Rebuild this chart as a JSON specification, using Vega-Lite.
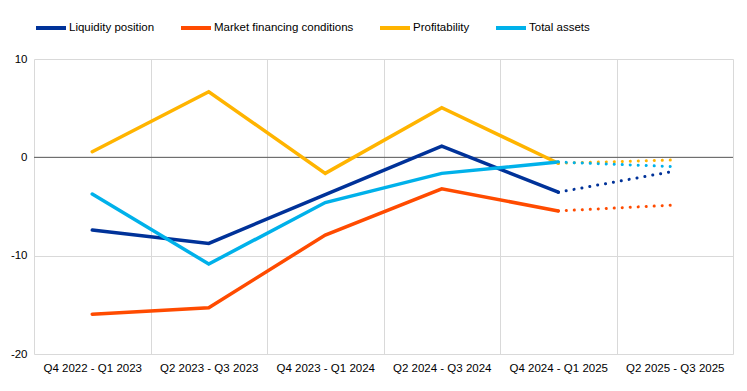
{
  "$schema": "https://vega.github.io/schema/vega-lite/v6.json",
  "width": 699,
  "height": 295,
  "padding": {"left": 10, "top": 11, "right": 15, "bottom": 10},
  "background": "white",
  "config": {
    "font": "Liberation Sans, Arial",
    "view": {"stroke": null},
    "axis": {"labelFont": "Liberation Sans, Arial", "labelFontSize": 11.5, "labelColor": "#000000", "ticks": false, "domain": false, "gridColor": "#d9d9d9", "gridWidth": 1, "title": null},
    "legend": {"labelFont": "Liberation Sans, Arial", "labelFontSize": 11.5, "labelColor": "#000000"}
  },
  "datasets": {
    "main": [
      {"period": "Q4 2022 - Q1 2023", "series": "Liquidity position", "value": -7.4, "part": "actual"},
      {"period": "Q2 2023 - Q3 2023", "series": "Liquidity position", "value": -8.75, "part": "actual"},
      {"period": "Q4 2023 - Q1 2024", "series": "Liquidity position", "value": -3.8, "part": "actual"},
      {"period": "Q2 2024 - Q3 2024", "series": "Liquidity position", "value": 1.15, "part": "actual"},
      {"period": "Q4 2024 - Q1 2025", "series": "Liquidity position", "value": -3.55, "part": "actual"},
      {"period": "Q4 2024 - Q1 2025", "series": "Liquidity position", "value": -3.55, "part": "expected"},
      {"period": "Q2 2025 - Q3 2025", "series": "Liquidity position", "value": -1.4, "part": "expected"},
      {"period": "Q4 2022 - Q1 2023", "series": "Market financing conditions", "value": -15.95, "part": "actual"},
      {"period": "Q2 2023 - Q3 2023", "series": "Market financing conditions", "value": -15.3, "part": "actual"},
      {"period": "Q4 2023 - Q1 2024", "series": "Market financing conditions", "value": -7.9, "part": "actual"},
      {"period": "Q2 2024 - Q3 2024", "series": "Market financing conditions", "value": -3.2, "part": "actual"},
      {"period": "Q4 2024 - Q1 2025", "series": "Market financing conditions", "value": -5.45, "part": "actual"},
      {"period": "Q4 2024 - Q1 2025", "series": "Market financing conditions", "value": -5.45, "part": "expected"},
      {"period": "Q2 2025 - Q3 2025", "series": "Market financing conditions", "value": -4.85, "part": "expected"},
      {"period": "Q4 2022 - Q1 2023", "series": "Profitability", "value": 0.57, "part": "actual"},
      {"period": "Q2 2023 - Q3 2023", "series": "Profitability", "value": 6.67, "part": "actual"},
      {"period": "Q4 2023 - Q1 2024", "series": "Profitability", "value": -1.63, "part": "actual"},
      {"period": "Q2 2024 - Q3 2024", "series": "Profitability", "value": 5.05, "part": "actual"},
      {"period": "Q4 2024 - Q1 2025", "series": "Profitability", "value": -0.6, "part": "actual"},
      {"period": "Q4 2024 - Q1 2025", "series": "Profitability", "value": -0.6, "part": "expected"},
      {"period": "Q2 2025 - Q3 2025", "series": "Profitability", "value": -0.27, "part": "expected"},
      {"period": "Q4 2022 - Q1 2023", "series": "Total assets", "value": -3.73, "part": "actual"},
      {"period": "Q2 2023 - Q3 2023", "series": "Total assets", "value": -10.85, "part": "actual"},
      {"period": "Q4 2023 - Q1 2024", "series": "Total assets", "value": -4.6, "part": "actual"},
      {"period": "Q2 2024 - Q3 2024", "series": "Total assets", "value": -1.63, "part": "actual"},
      {"period": "Q4 2024 - Q1 2025", "series": "Total assets", "value": -0.48, "part": "actual"},
      {"period": "Q4 2024 - Q1 2025", "series": "Total assets", "value": -0.48, "part": "expected"},
      {"period": "Q2 2025 - Q3 2025", "series": "Total assets", "value": -0.95, "part": "expected"}
    ],
    "zero": [{"value": 0}]
  },
  "encoding": {
    "x": {
      "field": "period", "type": "ordinal",
      "sort": ["Q4 2022 - Q1 2023", "Q2 2023 - Q3 2023", "Q4 2023 - Q1 2024", "Q2 2024 - Q3 2024", "Q4 2024 - Q1 2025", "Q2 2025 - Q3 2025"],
      "scale": {"type": "band", "paddingInner": 0, "paddingOuter": 0},
      "axis": {"labelAngle": 0, "tickBand": "extent", "grid": true, "labelPadding": 8}
    },
    "y": {
      "field": "value", "type": "quantitative",
      "scale": {"domain": [-20, 10], "nice": false},
      "axis": {"values": [-20, -10, 0, 10], "grid": true, "labelPadding": 7, "labelExpr": "datum.value < 0 ? '-' + abs(datum.value) : '' + datum.value"}
    }
  },
  "layer": [
    {
      "data": {"name": "zero"},
      "mark": {"type": "rule", "color": "#595959", "strokeWidth": 1},
      "encoding": {"y": {"field": "value", "type": "quantitative"}, "x": null}
    },
    {
      "data": {"name": "main"},
      "transform": [{"filter": "datum.part === 'actual'"}],
      "mark": {"type": "line", "strokeWidth": 3.5, "strokeCap": "round", "strokeJoin": "miter"},
      "encoding": {
        "color": {
          "field": "series", "type": "nominal",
          "scale": {"domain": ["Liquidity position", "Market financing conditions", "Profitability", "Total assets"], "range": ["#003299", "#FF4B00", "#FFB400", "#00B1EA"]},
          "legend": {"title": null, "orient": "top", "direction": "horizontal", "symbolType": "stroke", "symbolSize": 900, "symbolStrokeWidth": 4, "symbolDash": [], "labelOffset": 1, "columnPadding": 18, "offset": 23, "padding": 0}
        }
      }
    },
    {
      "data": {"name": "main"},
      "transform": [{"filter": "datum.part === 'expected'"}],
      "mark": {"type": "line", "strokeWidth": 3, "strokeCap": "round", "strokeDash": [0.1, 7.9]},
      "encoding": {
        "color": {"field": "series", "type": "nominal"}
      }
    }
  ]
}
